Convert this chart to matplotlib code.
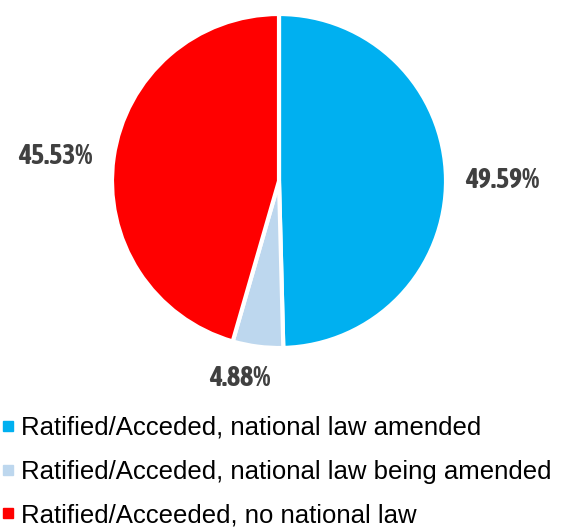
import matplotlib
matplotlib.use("Agg")
import matplotlib.pyplot as plt
from matplotlib.lines import Line2D

categories = ["Ratified/Acceded, national law amended",
              "Ratified/Acceded, national law being amended",
              "Ratified/Acceeded, no national law"]
values = [49.59, 4.88, 45.53]
colors = ["#00B0F0", "#BDD7EE", "#FF0000"]

label_font = ["Asap Condensed", "DejaVu Sans"]
legend_font = ["Liberation Sans", "DejaVu Sans"]

fig = plt.figure(figsize=(5.62, 5.27), dpi=100)
cx, cy, r = 279 / 562, (527 - 181) / 527, 167
ax = fig.add_axes([cx - r / 562, cy - r / 527, 2 * r / 562, 2 * r / 527])
wedges, _ = ax.pie(values, colors=colors, startangle=90, counterclock=False,
                   wedgeprops=dict(edgecolor="white", linewidth=3))
ax.set_xlim(-1.0, 1.0)
ax.set_ylim(-1.0, 1.0)
ax.set_aspect("equal")

# percentage labels
label_pos = [(502, 181), (240, 378), (55, 157)]
for v, (x, y) in zip(values, label_pos):
    fig.text(x / 562, 1 - y / 527, f"{v:.2f}%", ha="center", va="center",
             fontsize=20, fontweight="bold", color="#404040", family=label_font)

handles = [Line2D([], [], marker="s", linestyle="none", markersize=6.5,
                  markerfacecolor=c, markeredgecolor=c) for c in colors]
fig.legend(handles, categories, loc="upper left", bbox_to_anchor=(2 / 562, 1 - 416 / 527),
           frameon=False, prop=dict(family=legend_font, size=18.5),
           handlelength=0.5, handletextpad=0.25, labelspacing=0.76,
           borderaxespad=0, borderpad=0.0, labelcolor="black")

fig.savefig("out.png", dpi=100)
